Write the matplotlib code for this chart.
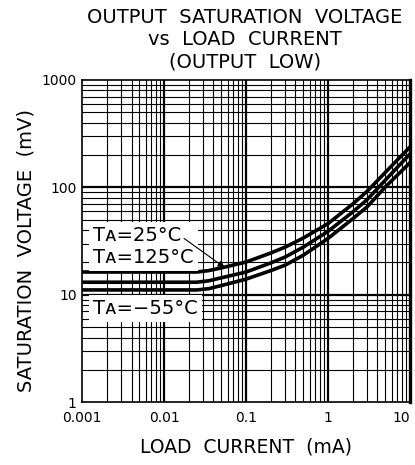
import matplotlib.pyplot as plt
from matplotlib.ticker import FixedLocator, FixedFormatter, NullFormatter

# values
load_current = [0.001, 0.01, 0.025, 0.035, 0.05, 0.1, 0.2, 0.3, 0.5, 1, 2, 3, 5, 10]
v_25c = [16.3, 16.3, 16.3, 16.8, 17.8, 20.2, 24.5, 27.8, 33.8, 46.0, 70.0, 92.0, 138.0, 238.0]
v_125c = [13.1, 13.1, 13.1, 13.5, 14.4, 16.3, 19.8, 22.5, 27.8, 39.0, 59.0, 77.0, 117.0, 205.0]
v_m55c = [11.1, 11.1, 11.1, 11.4, 12.2, 14.0, 16.8, 18.9, 23.4, 33.5, 51.0, 66.0, 101.0, 170.0]

x_ticks = [0.001, 0.01, 0.1, 1, 10]
x_labels = ["0.001", "0.01", "0.1", "1", "10"]
y_ticks = [1, 10, 100, 1000]
y_labels = ["1", "10", "100", "1000"]

plt.rcParams['font.family'] = ['DejaVu Sans']

fig = plt.figure(figsize=(4.15, 4.65), dpi=100)
ax = fig.add_axes([0.198, 0.135, 0.790, 0.693])
ax.set_xscale('log')
ax.set_yscale('log')
ax.set_xlim(0.001, 10)
ax.set_ylim(1, 1000)

# chart-paper grid
minor = [m * 10.0 ** e for e in range(-3, 3) for m in range(2, 10)]
for v in minor:
    if 0.001 < v < 10:
        ax.axvline(v, color='black', lw=0.8, zorder=1)
    if 1 < v < 1000:
        ax.axhline(v, color='black', lw=0.8, zorder=1)
for v in [0.01, 0.1, 1]:
    ax.axvline(v, color='black', lw=1.6, zorder=1)
for v in [10, 100]:
    ax.axhline(v, color='black', lw=1.6, zorder=1)

ax.plot(load_current, v_25c, color='black', lw=2.6, zorder=4, solid_capstyle='butt')
ax.plot(load_current, v_125c, color='black', lw=2.6, zorder=4, solid_capstyle='butt')
ax.plot(load_current, v_m55c, color='black', lw=2.6, zorder=4, solid_capstyle='butt')

ax.xaxis.set_major_locator(FixedLocator(x_ticks))
ax.xaxis.set_major_formatter(FixedFormatter(x_labels))
ax.xaxis.set_minor_formatter(NullFormatter())
ax.yaxis.set_major_locator(FixedLocator(y_ticks))
ax.yaxis.set_major_formatter(FixedFormatter(y_labels))
ax.yaxis.set_minor_formatter(NullFormatter())
ax.tick_params(which='both', length=0, labelsize=10, pad=4)
ax.tick_params(axis='x', pad=6)
fig.canvas.draw()
ax.get_xticklabels()[-1].set_horizontalalignment('right')

for s in ['left', 'bottom', 'top']:
    ax.spines[s].set_linewidth(1.2)
ax.spines['right'].set_linewidth(2.4)

box = dict(facecolor='white', edgecolor='none', pad=3)
ax.text(0.00136, 28.1, "Tᴀ=25°C\nTᴀ=125°C", fontsize=14, va='center', ha='left',
        linespacing=1.15, zorder=5, bbox=box)
ax.text(0.00136, 7.5, "Tᴀ=−55°C", fontsize=14, va='center', ha='left', zorder=5, bbox=box)
ax.annotate("", xy=(0.055, 17.9), xytext=(0.0175, 33.5),
            arrowprops=dict(arrowstyle='-|>', color='black', lw=0.8, mutation_scale=10,
                            shrinkA=0, shrinkB=0),
            zorder=6)

ax.set_xlabel("LOAD  CURRENT  (mA)", fontsize=13.5, labelpad=9)
ax.set_ylabel("SATURATION  VOLTAGE  (mV)", fontsize=14)
ax.yaxis.set_label_coords(-0.142, 0.47)
fig.text(0.59, 0.982, "OUTPUT  SATURATION  VOLTAGE\nvs  LOAD  CURRENT\n(OUTPUT  LOW)",
         fontsize=14, ha='center', va='top', linespacing=1.2)

fig.savefig("out.png", dpi=100)
